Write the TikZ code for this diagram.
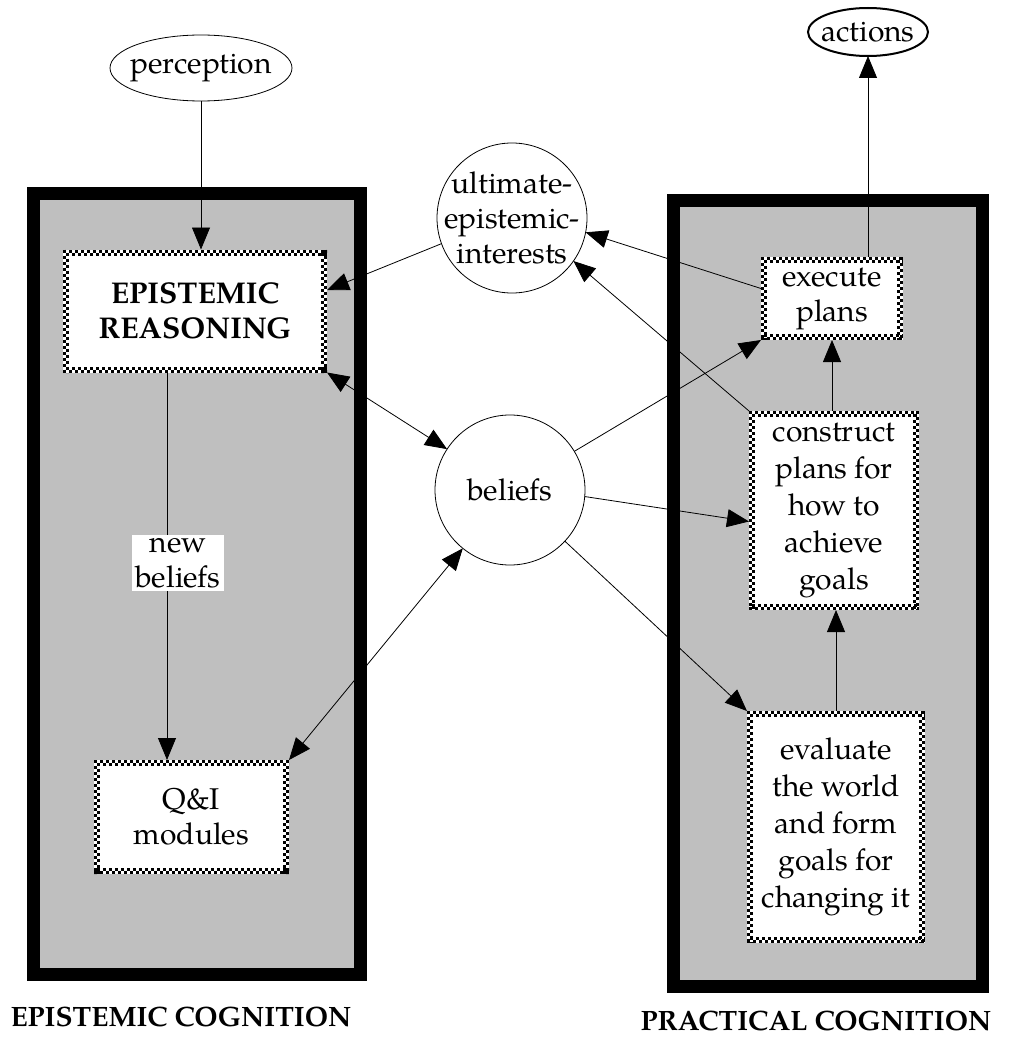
\documentclass[tikz,border=0pt]{standalone}
\usepackage{fontspec}
\setmainfont{TeX Gyre Pagella}
\usetikzlibrary{arrows.meta,calc,shapes.geometric}
\definecolor{boxgray}{gray}{0.75}
\newcommand\chkframe[1]{%
  \path (#1.north west) coordinate (nw) (#1.south east) coordinate (se);
  \draw[chkA] ($(nw)+(0,1.5)$) -- ($(nw -| se)+(0,1.5)$);
  \draw[chkB] ($(nw)+(0,4.5)$) -- ($(nw -| se)+(0,4.5)$);
  \draw[chkA] ($(nw |- se)+(0,-1.5)$) -- ($(se)+(0,-1.5)$);
  \draw[chkB] ($(nw |- se)+(0,-4.5)$) -- ($(se)+(0,-4.5)$);
  \draw[chkA] ($(nw)+(1.5,0)$) -- ($(nw |- se)+(1.5,0)$);
  \draw[chkB] ($(nw)+(4.5,0)$) -- ($(nw |- se)+(4.5,0)$);
  \draw[chkA] ($(nw -| se)+(-1.5,0)$) -- ($(se)+(-1.5,0)$);
  \draw[chkB] ($(nw -| se)+(-4.5,0)$) -- ($(se)+(-4.5,0)$);
}
\begin{document}
\begin{tikzpicture}[x=1pt,y=-1pt,
  every node/.style={font=\fontsize{30}{35}\selectfont},
  >={Triangle[length=22pt,width=18pt]},
  conn/.style={line width=0.8pt,->},
  biconn/.style={line width=0.8pt,<->},
  bigbox/.style={draw=black,fill=boxgray,line width=13pt},
  pbox/.style={fill=white,inner sep=0pt,outer sep=0pt,align=center},
  chkA/.style={draw=black,line width=3pt,dash pattern=on 3pt off 3pt},
  chkB/.style={chkA,dash phase=3pt},
  circ/.style={draw,circle,minimum size=150pt,inner sep=0pt,outer sep=0pt,line width=0.8pt,fill=white},
  oval/.style={draw,ellipse,inner sep=0pt,outer sep=0pt,fill=white},
  tall/.style={font=\fontsize{30}{37}\selectfont},
  caps/.style={font=\fontsize{28}{34}\selectfont\bfseries,inner sep=0pt,outer sep=0pt}
]
\fill[white] (0,0) rectangle (1011,1038);
\useasboundingbox (0,0) rectangle (1011,1038);

% big panels
\draw[bigbox] (33.5,193.5) rectangle (360.5,974.5);
\draw[bigbox] (673.5,200.5) rectangle (982.5,986.5);

% process boxes
\node[pbox,minimum width=264pt,minimum height=123pt,font=\fontsize{30}{35}\selectfont\bfseries] (er) at (195,311) {EPISTEMIC\\REASONING};
\node[pbox,minimum width=195pt,minimum height=114pt] (qi) at (191.5,817) {Q\&I\\modules};
\node[pbox,minimum width=142pt,minimum height=83pt] (ex) at (832,298.5) {execute\\plans};
\node[pbox,tall,minimum width=170pt,minimum height=199pt] (cp) at (834,510.5) {construct\\plans for\\how to\\achieve\\goals};
\node[pbox,tall,minimum width=178pt,minimum height=232pt] (ev) at (836,827) {evaluate\\the world\\and form\\goals for\\changing it};

\foreach \n in {er,qi,ex,cp,ev}{\chkframe{\n}}

% ovals and circles
\node[oval,line width=0.8pt,minimum width=182pt,minimum height=66pt] (perc) at (201,68) {};
\node (percT) at (perc) {perception};
\node[oval,line width=2pt,minimum width=120pt,minimum height=48pt] (act) at (868,32) {};
\node (actT) at (act) {actions};
\node[circ] (ult) at (512,218) {};
\node[align=center] (ultT) at (ult) {ultimate-\\epistemic-\\interests};
\node[circ] (bel) at (510,490) {beliefs};

% connectors
\draw[conn] (perc.south) -- (perc.south |- er.north);
\draw[conn] (ult.200) -- ($(er.east)+(0,-21)$);
\draw[conn] ($(ex.west)+(0,-10)$) -- (ult.349);
\draw[conn] (cp.north west) -- (ult.325);
\draw[biconn] (er.south east) -- (bel.147);
\draw[biconn] (bel.231) -- (qi.north east);
\draw[conn] (bel.31) -- (ex.south west);
\draw[conn] (bel.-5) -- ($(cp.west)+(0,11)$);
\draw[conn] (bel.-43) -- (ev.north west);
\draw[conn] (ev.north) -- (ev.north |- cp.south);
\draw[conn] (ex.south |- cp.north) -- (ex.south);
\draw[conn] (act.south |- ex.north) -- (act.south);
\coordinate (nbtop) at ($(er.south)+(-28,0)$);
\draw[conn] (nbtop) -- (nbtop |- qi.north);
\node[fill=white,inner sep=3pt,align=center] (nb) at (178,563) {new\\beliefs};

% panel captions
\node[caps] (epiL) at (181,1017) {EPISTEMIC COGNITION};
\node[caps] (praL) at (816,1021) {PRACTICAL COGNITION};
\end{tikzpicture}
\end{document}
